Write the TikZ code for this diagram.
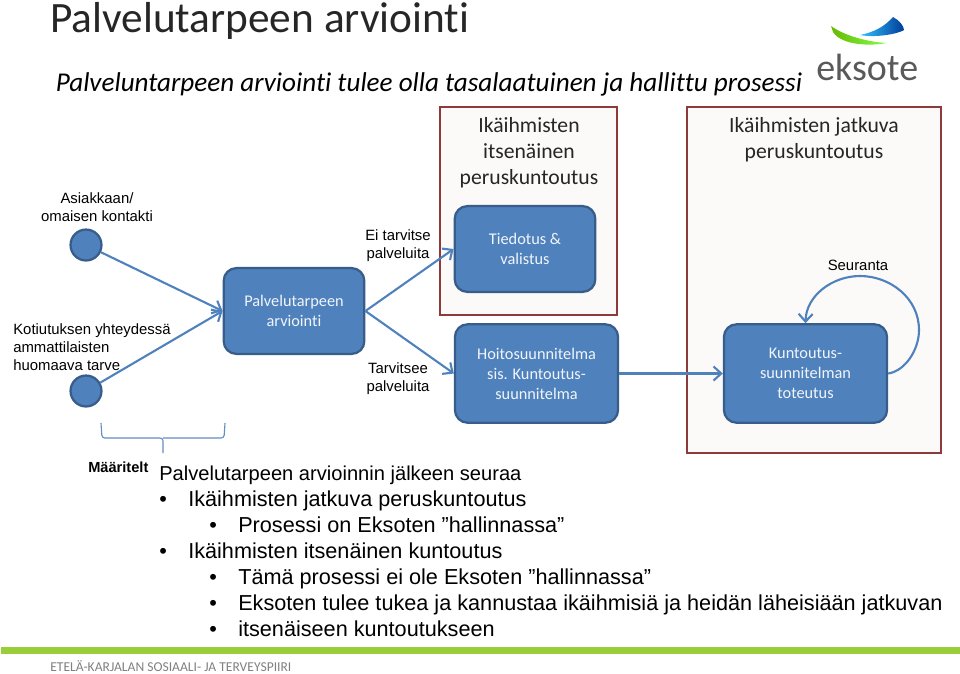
\documentclass[tikz,border=0pt]{standalone}
\usepackage{fontspec}
\setmainfont[Ligatures=NoCommon]{Carlito}
\newfontfamily\arialfont{Liberation Sans}
\usetikzlibrary{arrows.meta}
\definecolor{boxfill}{HTML}{4F81BD}
\definecolor{boxline}{HTML}{385D8A}
\definecolor{redline}{HTML}{8C3A3A}
\definecolor{framefill}{HTML}{FBFAF8}
\definecolor{barcolor}{HTML}{9ACD3A}
\tikzset{
  bluebox/.style={rectangle, rounded corners=9pt, draw=boxline, line width=1.6pt, fill=boxfill, text=white!92!boxfill, align=center, inner sep=0pt, font=\fontsize{11.6}{14.2}\selectfont},
  redframe/.style={draw=redline, line width=2pt, fill=framefill},
  blob/.style={circle, draw=boxline, line width=1.6pt, fill=boxfill, minimum size=22pt, inner sep=0pt},
  flow/.style={-{Straight Barb[length=5.5pt,width=10pt]}, line width=1.5pt, draw=boxfill},
  small/.style={font=\arialfont\fontsize{10.6}{12.8}\selectfont, align=center, text=black},
  head/.style={font=\fontsize{15.4}{18.5}\selectfont, align=center, text=black!85},
  bodyline/.style={anchor=base west, inner sep=0pt, font=\arialfont\fontsize{15.4}{17}\selectfont},
}
\begin{document}
\begin{tikzpicture}[x=0.025cm, y=-0.025cm]
\useasboundingbox (0,0) rectangle (960,673);
% header
\node[anchor=base west, inner sep=0pt, font=\fontsize{30.8}{33}\selectfont, text=black!85] (title) at (50,32.5) {Palvelutarpeen arviointi};
\node[anchor=base west, inner sep=0pt, font=\itshape\fontsize{19.3}{22}\selectfont] (subtitle) at (55.5,91) {Palveluntarpeen arviointi tulee olla tasalaatuinen ja hallittu prosessi};
% logo
\shade[left color=green!55!black!60!yellow, right color=green!70!yellow!70!white] (831,26) .. controls (845,36) and (868,42) .. (887,43) .. controls (872,46) and (842,46) .. (833,32) -- cycle;
\shade[left color=cyan!70!blue!80!white, right color=cyan!40!blue!60!black] (860,35) .. controls (875,32) and (885,26) .. (893,17) .. controls (899,20) and (904,26) .. (904,30) .. controls (898,34) and (875,38) .. (860,35) -- cycle;
\node[anchor=base west, inner sep=0pt, font=\fontsize{27}{30}\selectfont, text=black!65] (logo) at (816,80) {eksote};
% frames
\draw[redframe] (440,107) rectangle (617,315);
\draw[redframe] (687,107) rectangle (941,453);
\node[head] (itse) at (529,153) {Ikäihmisten\\itsenäinen\\peruskuntoutus};
\node[head] (jatkuva) at (814,140) {Ikäihmisten jatkuva\\peruskuntoutus};
% boxes
\node[blob] (asiakas) at (86,245) {};
\node[blob] (kotiutus) at (86,391) {};
\node[bluebox, minimum width=100pt, minimum height=61pt] (arvio) at (294,311) {Palvelutarpeen\\arviointi};
\node[bluebox, minimum width=100pt, minimum height=61pt] (tiedotus) at (525,249) {Tiedotus \&\\valistus};
\node[bluebox, minimum width=116pt, minimum height=70pt] (hoito) at (536.5,373.5) {Hoitosuunnitelma\\sis. Kuntoutus-\\suunnitelma};
\node[bluebox, minimum width=116pt, minimum height=70pt] (toteutus) at (805.5,373.5) {Kuntoutus-\\suunnitelman\\toteutus};
% labels
\node[small] (l1) at (97,207) {Asiakkaan/\\omaisen kontakti};
\node[small, align=left, anchor=west, inner sep=0pt] (l2) at (13,347) {Kotiutuksen yhteydessä\\ammattilaisten\\huomaava tarve};
\node[small] (l3) at (398,246) {Ei tarvitse\\palveluita};
\node[small] (l4) at (398,379) {Tarvitsee\\palveluita};
\node[small] (l5) at (858,265) {Seuranta};
% connectors
\draw[flow] (asiakas) -- (arvio.west);
\draw[flow] (kotiutus) -- (arvio.west);
\draw[flow] (arvio.east) -- (tiedotus.west);
\draw[flow] (arvio.east) -- (hoito.west);
\draw[flow] (hoito.east) -- (toteutus.west);
\draw[flow] (toteutus.east) .. controls (905,371) and (919,350) .. (919,330) .. controls (919,298) and (890,276) .. (860,276) .. controls (832,276) and (806,296) .. (toteutus.north);
% brace
\draw[boxfill!90!white, line width=0.8pt, rounded corners=2pt] (101,423) -- (102,438) -- (163,438) -- (163,453);
\draw[boxfill!90!white, line width=0.8pt, rounded corners=2pt] (225,423) -- (224,438) -- (163,438);
% text below
\node[anchor=base west, inner sep=0pt, font=\arialfont\bfseries\fontsize{10.4}{12}\selectfont] (maar) at (88,472) {Määritelt};
\node[bodyline, font=\arialfont\fontsize{14.3}{17}\selectfont] (t0) at (159,480) {Palvelutarpeen arvioinnin jälkeen seuraa};
\node[bodyline] (t1) at (188,506) {Ikäihmisten jatkuva peruskuntoutus};
\node[bodyline] (t2) at (238,532) {Prosessi on Eksoten ”hallinnassa”};
\node[bodyline] (t3) at (188,558) {Ikäihmisten itsenäinen kuntoutus};
\node[bodyline] (t4) at (238,584) {Tämä prosessi ei ole Eksoten ”hallinnassa”};
\node[bodyline] (t5) at (238,610) {Eksoten tulee tukea ja kannustaa ikäihmisiä ja heidän läheisiään jatkuvan};
\node[bodyline] (t6) at (238,636) {itsenäiseen kuntoutukseen};
\foreach \name/\px in {t1/159, t2/209, t3/159, t4/209, t5/209, t6/209}
  \node[bodyline] (b\name) at (\px,0 |- \name.base) {•};
% footer
\fill[barcolor] (1,647) rectangle (960,654);
\node[anchor=base west, inner sep=0pt, font=\fontsize{9.65}{11}\selectfont, text=black!50] (foot) at (50,671) {ETELÄ-KARJALAN SOSIAALI- JA TERVEYSPIIRI};
\end{tikzpicture}
\end{document}
